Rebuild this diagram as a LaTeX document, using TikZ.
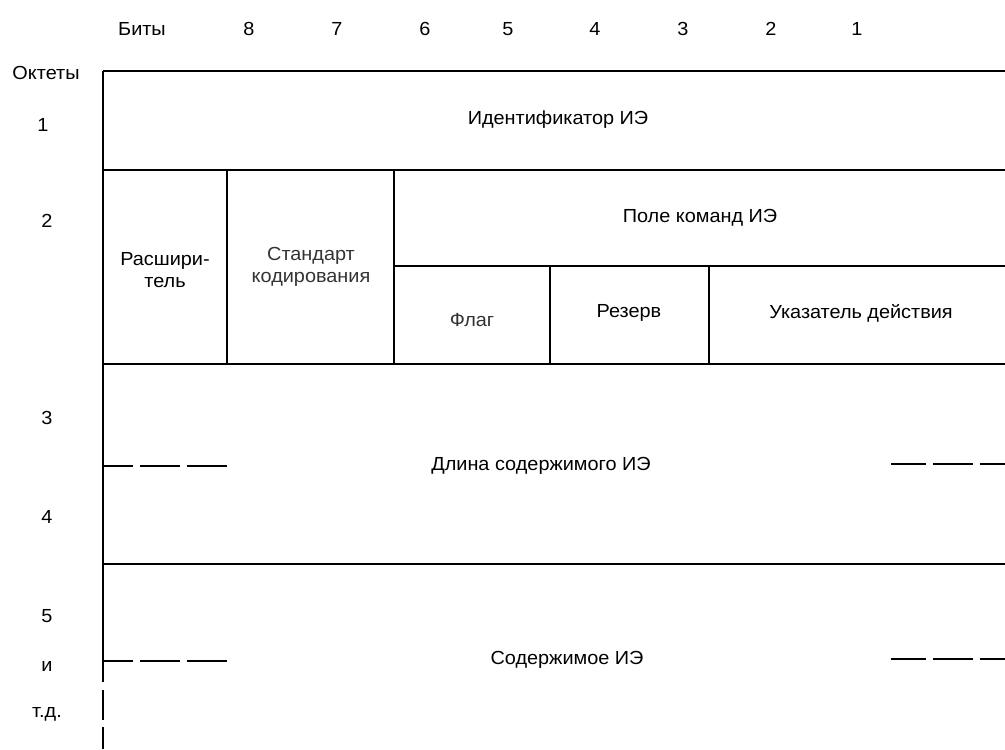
\documentclass[tikz,border=0pt]{standalone}
\usepackage{fontspec}
\setmainfont{Liberation Sans}[FakeStretch=1.05]
\begin{document}
\begin{tikzpicture}[x=0.75pt,y=-0.75pt,
  txt/.style={font=\fontsize{14.2}{17}\selectfont, align=center, inner sep=0pt},
  light/.style={txt, text=black!80},
  rule/.style={line width=1.6pt, black},
  dashl/.style={line width=1.6pt, black, dash pattern=on 22.5pt off 5.25pt on 30pt off 5.25pt on 30pt},
  dashr/.style={line width=1.6pt, black, dash pattern=on 26.25pt off 5.25pt on 30pt off 5pt on 30pt}]
\useasboundingbox (0,0) rectangle (1005,749);
\fill[white] (0,0) rectangle (1005,749);

% header
\node[txt] (bits) at (142,29) {Биты};
\node[txt] (b8) at (249,29) {8};
\node[txt] (b7) at (337,29) {7};
\node[txt] (b6) at (425,29) {6};
\node[txt] (b5) at (508,29) {5};
\node[txt] (b4) at (595,29) {4};
\node[txt] (b3) at (683,29) {3};
\node[txt] (b2) at (771,29) {2};
\node[txt] (b1) at (857,29) {1};

% octets
\node[txt] (oct) at (46,73) {Октеты};
\node[txt] (o1) at (43,125) {1};
\node[txt] (o2) at (47,221) {2};
\node[txt] (o3) at (47,418) {3};
\node[txt] (o4) at (47,517) {4};
\node[txt] (o5) at (47,616) {5};
\node[txt] (oi) at (47,666) {и};
\node[txt] (otd) at (47,714) {т.д.};

% grid lines
\draw[rule] (103,71) -- (1005,71);
\draw[rule] (103,71) -- (103,682);
\draw[rule] (103,690) -- (103,720);
\draw[rule] (103,727) -- (103,749);
\draw[rule] (103,170) -- (1005,170);
\draw[rule] (227,170) -- (227,364);
\draw[rule] (394,170) -- (394,364);
\draw[rule] (394,266) -- (1005,266);
\draw[rule] (550,266) -- (550,364);
\draw[rule] (709,266) -- (709,364);
\draw[rule] (103,364) -- (1005,364);
\draw[rule] (103,564) -- (1005,564);

% dashed continuation marks
\draw[dashl] (103,466) -- (227,466);
\draw[dashr] (891,464) -- (1005,464);
\draw[dashl] (103,661) -- (227,661);
\draw[dashr] (891,659) -- (1005,659);

% cell texts
\node[txt] (ident) at (558,120) {Идентификатор ИЭ};
\node[txt] (pole) at (700,218) {Поле команд ИЭ};
\node[txt] (rassh) at (165,270) {Расшири-\\тель};
\node[light] (std) at (311,267) {Стандарт\\кодирования};
\node[light] (flag) at (472,320) {Флаг};
\node[txt] (rez) at (629,313) {Резерв};
\node[txt] (ukaz) at (861,313) {Указатель действия};
\node[txt] (dlina) at (541,466) {Длина содержимого ИЭ};
\node[txt] (sod) at (567,660) {Содержимое ИЭ};
\end{tikzpicture}
\end{document}
